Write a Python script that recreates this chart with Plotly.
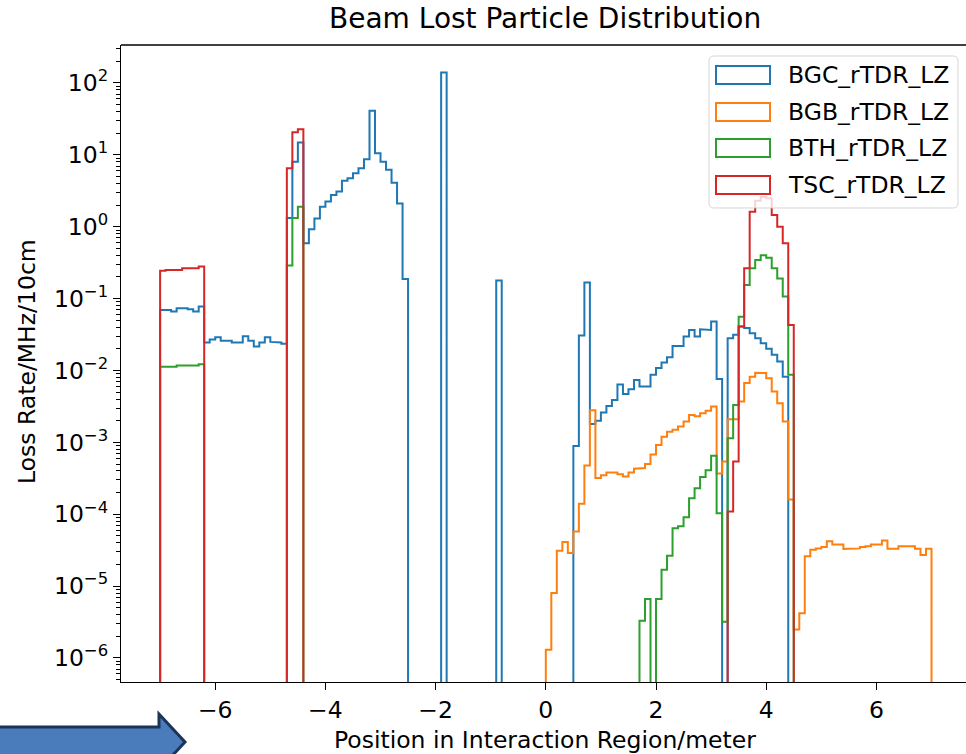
import numpy as np
import plotly.graph_objects as go

# ---------------- data ----------------
bin_edges = np.round(np.linspace(-7.0, 7.0, 141), 2)   # 10 cm bins

series_names = ["BGC_rTDR_LZ", "BGB_rTDR_LZ", "BTH_rTDR_LZ", "TSC_rTDR_LZ"]
series_colors = ["#1f77b4", "#ff7f0e", "#2ca02c", "#d62728"]

# each row = one metre (10 bins), starting at -7.0
bgc = [
    0.0695, 0.0695, 0.066, 0.0735, 0.0735, 0.071, 0.066, 0.0775, 0.0245, 0.027,
    0.029, 0.026, 0.026, 0.0245, 0.0245, 0.030, 0.026, 0.0215, 0.0245, 0.029,
    0.025, 0.0245, 0.0235, 1.32, 8.0, 14.8, 0.59, 0.92, 1.30, 1.9,
    2.24, 2.77, 3.08, 4.37, 4.72, 5.55, 6.5, 8.7, 41.0, 10.5,
    8.05, 6.2, 4.1, 2.1, 0.188, 0, 0, 0, 0, 0,
    0, 140.0, 0, 0, 0, 0, 0, 0, 0, 0,
    0, 0.178, 0, 0, 0, 0, 0, 0, 0, 0,
    0, 0, 0, 0, 0, 8.9e-4, 0.0306, 0.167, 1.8e-3, 2.0e-3,
    2.6e-3, 3.2e-3, 3.9e-3, 6.4e-3, 4.7e-3, 5.5e-3, 7.4e-3, 6.0e-3, 6.0e-3, 8.7e-3,
    0.0108, 0.0129, 0.0153, 0.022, 0.022, 0.0297, 0.0367, 0.0297, 0.0375, 0.0367,
    0.048, 7.6e-3, 0, 0.028, 0.0313, 0.041, 0.039, 0.033, 0.028, 0.024,
    0.020, 0.0165, 0.0133, 8.2e-3, 0, 0, 0, 0, 0, 0,
    0, 0, 0, 0, 0, 0, 0, 0, 0, 0,
    0, 0, 0, 0, 0, 0, 0, 0, 0, 0,
]

bgb = [
    0, 0, 0, 0, 0, 0, 0, 0, 0, 0,
    0, 0, 0, 0, 0, 0, 0, 0, 0, 0,
    0, 0, 0, 0, 0, 0, 0, 0, 0, 0,
    0, 0, 0, 0, 0, 0, 0, 0, 0, 0,
    0, 0, 0, 0, 0, 0, 0, 0, 0, 0,
    0, 0, 0, 0, 0, 0, 0, 0, 0, 0,
    0, 0, 0, 0, 0, 0, 0, 0, 0, 0,
    1.3e-6, 8.0e-6, 3.1e-5, 4.1e-5, 2.9e-5, 5.75e-5, 1.4e-4, 4.75e-4, 2.8e-3, 3.2e-4,
    3.5e-4, 3.8e-4, 3.8e-4, 3.6e-4, 3.35e-4, 3.8e-4, 4.3e-4, 4.4e-4, 5.0e-4, 6.8e-4,
    9.2e-4, 1.2e-3, 1.4e-3, 1.5e-3, 1.66e-3, 1.95e-3, 2.4e-3, 2.3e-3, 2.55e-3, 2.75e-3,
    3.15e-3, 3.7e-4, 5.4e-4, 2.1e-3, 2.1e-3, 3.7e-3, 6.7e-3, 8.2e-3, 9.3e-3, 9.2e-3,
    7.8e-3, 5.1e-3, 3.5e-3, 1.95e-3, 1.6e-4, 2.5e-6, 4.2e-6, 2.6e-5, 3.2e-5, 3.35e-5,
    3.5e-5, 4.2e-5, 3.8e-5, 3.8e-5, 3.3e-5, 3.35e-5, 3.35e-5, 3.5e-5, 3.6e-5, 3.8e-5,
    3.8e-5, 4.3e-5, 3.3e-5, 3.3e-5, 3.6e-5, 3.6e-5, 3.6e-5, 3.3e-5, 2.7e-5, 3.3e-5,
]

bth = [
    0.0113, 0.0113, 0.0113, 0.0117, 0.0117, 0.0117, 0.0117, 0.0122, 0, 0,
    0, 0, 0, 0, 0, 0, 0, 0, 0, 0,
    0, 0, 0, 0.29, 1.32, 1.9, 0, 0, 0, 0,
    0, 0, 0, 0, 0, 0, 0, 0, 0, 0,
    0, 0, 0, 0, 0, 0, 0, 0, 0, 0,
    0, 0, 0, 0, 0, 0, 0, 0, 0, 0,
    0, 0, 0, 0, 0, 0, 0, 0, 0, 0,
    0, 0, 0, 0, 0, 0, 0, 0, 0, 0,
    0, 0, 0, 0, 0, 0, 0, 3.3e-6, 6.6e-6, 0,
    6.6e-6, 1.69e-5, 2.64e-5, 6.4e-5, 6.8e-5, 9.1e-5, 1.67e-4, 2.3e-4, 3.3e-4, 4.1e-4,
    6.5e-4, 1.03e-4, 3.2e-6, 1.14e-3, 3.3e-3, 0.056, 0.155, 0.264, 0.345, 0.40,
    0.37, 0.264, 0.19, 0.107, 8.7e-3, 0, 0, 0, 0, 0,
    0, 0, 0, 0, 0, 0, 0, 0, 0, 0,
    0, 0, 0, 0, 0, 0, 0, 0, 0, 0,
]

tsc = [
    0.245, 0.25, 0.25, 0.25, 0.265, 0.265, 0.265, 0.28, 0, 0,
    0, 0, 0, 0, 0, 0, 0, 0, 0, 0,
    0, 0, 0, 6.5, 20.6, 22.7, 0, 0, 0, 0,
    0, 0, 0, 0, 0, 0, 0, 0, 0, 0,
    0, 0, 0, 0, 0, 0, 0, 0, 0, 0,
    0, 0, 0, 0, 0, 0, 0, 0, 0, 0,
    0, 0, 0, 0, 0, 0, 0, 0, 0, 0,
    0, 0, 0, 0, 0, 0, 0, 0, 0, 0,
    0, 0, 0, 0, 0, 0, 0, 0, 0, 0,
    0, 0, 0, 0, 0, 0, 0, 0, 0, 0,
    0, 0, 0, 1.09e-4, 5.4e-4, 0.041, 0.264, 1.62, 2.3, 2.6,
    2.5, 1.46, 1.0, 0.59, 0.043, 0, 0, 0, 0, 0,
    0, 0, 0, 0, 0, 0, 0, 0, 0, 0,
    0, 0, 0, 0, 0, 0, 0, 0, 0, 0,
]

x_ticks = [-6, -4, -2, 0, 2, 4, 6]
y_exponents = [-6, -5, -4, -3, -2, -1, 0, 1, 2]

title_text = "Beam Lost Particle Distribution"
x_label = "Position in Interaction Region/meter"
y_label = "Loss Rate/MHz/10cm"

# ---------------- figure geometry ----------------
W, H = 966, 754
ML, MR, MT, MB = 121, 0, 45, 72
PW, PH = W - ML - MR, H - MT - MB
X_RANGE = [-7.71, 7.626]
Y_RANGE = [-6.334, 2.5285]
FONT = "DejaVu Sans"
FS = 23.5        # tick / label / legend text size
FS_TITLE = 28


def px2paper(px, py):
    return (px - ML) / PW, (H - MB - py) / PH


FLOOR = 1e-9  # empty bins drop below the axis, as in a log step histogram


def step_xy(edges, vals):
    v = np.asarray(vals, dtype=float)
    v = np.where(v > 0, v, FLOOR)
    xs = np.repeat(edges, 2)
    ys = np.concatenate([[FLOOR], np.repeat(v, 2), [FLOOR]])
    return xs, ys


fig = go.Figure()
for name, vals, col in zip(series_names, [bgc, bgb, bth, tsc], series_colors):
    xs, ys = step_xy(bin_edges, vals)
    fig.add_trace(go.Scatter(x=xs, y=ys, mode="lines", name=name,
                             line=dict(color=col, width=2), showlegend=False,
                             hoverinfo="skip"))

minor_vals = [k * 10.0 ** e for e in range(-7, 3) for k in range(2, 10)]

fig.update_layout(
    width=W, height=H,
    margin=dict(l=ML, r=MR, t=MT, b=MB, pad=0),
    paper_bgcolor="white", plot_bgcolor="white",
    font=dict(family=FONT, color="black"),
    showlegend=False,
    xaxis=dict(range=X_RANGE, tickmode="array", tickvals=x_ticks,
               ticktext=[("\u2212" if t < 0 else "") + str(abs(t)) for t in x_ticks],
               ticks="outside", ticklen=7, tickwidth=1.4, tickcolor="black",
               showline=True, linecolor="black", linewidth=1.4,
               showgrid=False, zeroline=False,
               tickfont=dict(size=FS, family=FONT, color="black")),
    yaxis=dict(type="log", range=Y_RANGE, tickmode="array",
               tickvals=[10.0 ** e for e in y_exponents],
               ticktext=["10<sup>" + ("\u2212" if e < 0 else "") + str(abs(e)) + "</sup>"
                         for e in y_exponents],
               ticks="outside", ticklen=7, tickwidth=1.4, tickcolor="black",
               showline=True, linecolor="black", linewidth=1.4,
               showgrid=False, zeroline=False,
               minor=dict(tickmode="array", tickvals=minor_vals, ticks="outside",
                          ticklen=3.5, tickwidth=1, tickcolor="black", showgrid=False),
               tickfont=dict(size=FS, family=FONT, color="black")),
)

# top spine
fig.add_shape(type="line", xref="paper", yref="paper", x0=0, x1=1, y0=1, y1=1,
              line=dict(color="black", width=1.4))

annotations = []
annotations.append(dict(text=title_text, xref="paper", yref="paper",
                        x=px2paper(545, 0)[0], y=px2paper(0, 18)[1],
                        xanchor="center", yanchor="middle", showarrow=False,
                        font=dict(size=FS_TITLE, family=FONT, color="black")))
annotations.append(dict(text=x_label, xref="paper", yref="paper",
                        x=px2paper(545, 0)[0], y=px2paper(0, 740)[1],
                        xanchor="center", yanchor="middle", showarrow=False,
                        font=dict(size=FS, family=FONT, color="black")))
annotations.append(dict(text=y_label, xref="paper", yref="paper",
                        x=px2paper(27, 0)[0], y=px2paper(0, 362)[1], textangle=-90,
                        xanchor="center", yanchor="middle", showarrow=False,
                        font=dict(size=FS, family=FONT, color="black")))

# legend box (matplotlib style, semi-transparent, rounded)
lx0, ly0, lx1, ly1, r = 709, 56, 958, 208, 5


def P(px, py):
    a, b = px2paper(px, py)
    return f"{a:.5f},{b:.5f}"


box_path = (f"M{P(lx0 + r, ly0)} L{P(lx1 - r, ly0)} Q{P(lx1, ly0)} {P(lx1, ly0 + r)} "
            f"L{P(lx1, ly1 - r)} Q{P(lx1, ly1)} {P(lx1 - r, ly1)} L{P(lx0 + r, ly1)} "
            f"Q{P(lx0, ly1)} {P(lx0, ly1 - r)} L{P(lx0, ly0 + r)} Q{P(lx0, ly0)} {P(lx0 + r, ly0)} Z")
fig.add_shape(type="path", xref="paper", yref="paper", path=box_path,
              fillcolor="rgba(255,255,255,0.8)", line=dict(color="rgba(204,204,204,0.8)", width=1),
              layer="above")
row_y = [75, 112, 148, 185]
for name, col, cy in zip(series_names, series_colors, row_y):
    x0, y0 = px2paper(716, cy - 9)
    x1, y1 = px2paper(770, cy + 9)
    fig.add_shape(type="rect", xref="paper", yref="paper", x0=x0, x1=x1, y0=y1, y1=y0,
                  line=dict(color=col, width=2), fillcolor="rgba(0,0,0,0)", layer="above")
    tx, ty = px2paper(786, cy)
    annotations.append(dict(text=name, xref="paper", yref="paper", x=tx, y=ty,
                            xanchor="left", yanchor="middle", showarrow=False,
                            font=dict(size=FS, family=FONT, color="black")))

# decorative arrow at bottom-left of the slide
arrow_pts = [(-6, 727), (159, 727), (159, 714), (185, 742), (159, 770), (159, 757), (-6, 757)]
arrow_path = "M" + " L".join(P(a, b) for a, b in arrow_pts) + " Z"
fig.add_shape(type="path", xref="paper", yref="paper", path=arrow_path,
              fillcolor="#4a7bbb", line=dict(color="#1c3557", width=3), layer="above")

fig.update_layout(annotations=annotations)
fig.write_html("out.html")
